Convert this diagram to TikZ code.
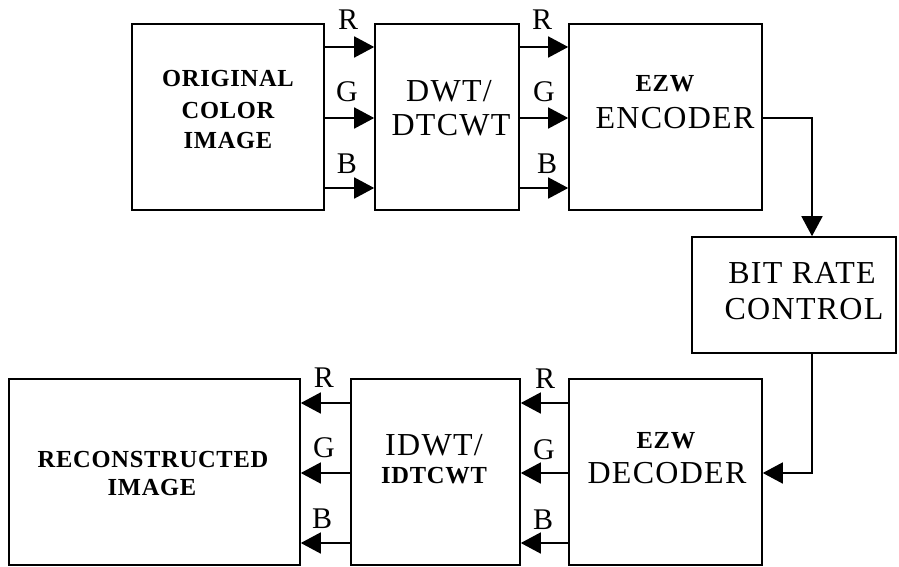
\documentclass[tikz,border=0pt]{standalone}
\usepackage{fontspec}
\setmainfont{Liberation Serif}
\newfontfamily\bigfont[LetterSpace=4]{Liberation Serif}
\newfontfamily\smallfont[LetterSpace=3]{Liberation Serif Bold}
\usetikzlibrary{arrows.meta}
\tikzset{
  block/.style = {draw, line width=1.6pt, inner sep=0pt, minimum height=186pt},
  big/.style = {inner sep=0pt, text height=21pt, text depth=0pt, font=\bigfont\fontsize{32}{36}\selectfont},
  small/.style = {inner sep=0pt, text height=16.5pt, text depth=0pt, font=\smallfont\fontsize{24.5}{30}\selectfont},
  chan/.style = {inner sep=0pt, text height=20pt, text depth=0pt, font=\fontsize{30}{34}\selectfont},
  sig/.style = {line width=1.6pt, -{Triangle[length=20pt,width=21pt]}}
}
\begin{document}
\begin{tikzpicture}[x=1pt, y=-1pt]
\useasboundingbox (0,0) rectangle (899,567);
% blocks
\node[block, minimum width=192pt] (orig) at (228,117) {};
\node[block, minimum width=144pt] (dwt) at (447,117) {};
\node[block, minimum width=193pt] (enc) at (665.5,117) {};
\node[block, minimum width=204pt, minimum height=116pt] (rate) at (794,295) {};
\node[block, minimum width=193pt] (dec) at (665.5,472) {};
\node[block, minimum width=169pt] (idwt) at (435.5,472) {};
\node[block, minimum width=291pt] (recon) at (154.5,472) {};
% block texts
\node[small] (orig-a) at (228,78) {ORIGINAL};
\node[small] (orig-b) at (228,110) {COLOR};
\node[small] (orig-c) at (228,140) {IMAGE};
\node[big] (dwt-a) at (449,91) {DWT/};
\node[big] (dwt-b) at (451,125) {DTCWT};
\node[small] (enc-a) at (665,83) {EZW};
\node[big] (enc-b) at (675,118) {ENCODER};
\node[big] (rate-a) at (802,273) {BIT RATE};
\node[big] (rate-b) at (804,309) {CONTROL};
\node[small] (dec-a) at (666,440) {EZW};
\node[big] (dec-b) at (667,473) {DECODER};
\node[big] (idwt-a) at (434,445) {IDWT/};
\node[small] (idwt-b) at (434,475) {IDTCWT};
\node[small] (recon-a) at (153,459) {RECONSTRUCTED};
\node[small] (recon-b) at (152,487) {IMAGE};
% channel labels
\node[chan] (r1) at (348,20) {R};
\node[chan] (g1) at (347,92) {G};
\node[chan] (b1) at (347,163) {B};
\node[chan] (r2) at (542,20) {R};
\node[chan] (g2) at (544,92) {G};
\node[chan] (b2) at (547,163) {B};
\node[chan] (r3) at (545,378) {R};
\node[chan] (g3) at (544,449) {G};
\node[chan] (b3) at (543,519) {B};
\node[chan] (r4) at (324,377) {R};
\node[chan] (g4) at (324,447) {G};
\node[chan] (b4) at (322,518) {B};
% channel arrows
\foreach \y in {47,118,188} {
  \draw[sig] (orig.east |- 0,\y) -- (dwt.west |- 0,\y);
  \draw[sig] (dwt.east |- 0,\y) -- (enc.west |- 0,\y);
}
\foreach \y in {403,473,543} {
  \draw[sig] (dec.west |- 0,\y) -- (idwt.east |- 0,\y);
  \draw[sig] (idwt.west |- 0,\y) -- (recon.east |- 0,\y);
}
% bit rate loop
\coordinate (turn-a) at (812,118);
\coordinate (turn-b) at (812,473);
\draw[sig] (enc.east |- turn-a) -- (turn-a) -- (turn-a |- rate.north);
\draw[sig] (turn-b |- rate.south) -- (turn-b) -- (dec.east |- turn-b);
\end{tikzpicture}
\end{document}
